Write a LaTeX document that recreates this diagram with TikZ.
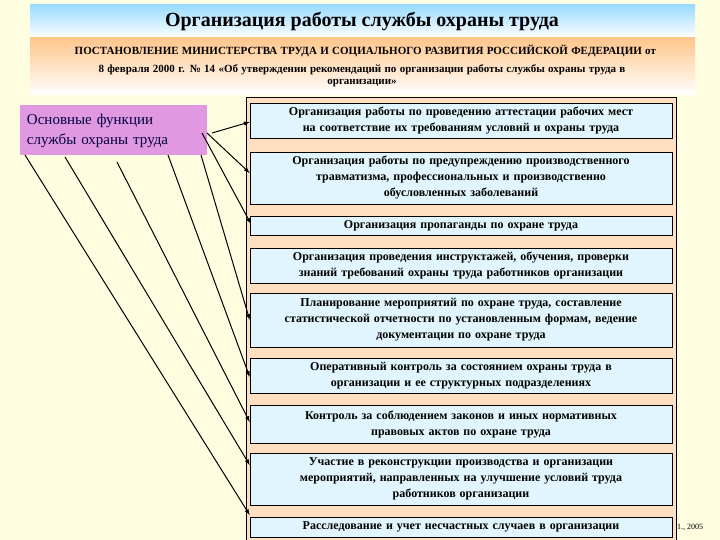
\documentclass[tikz,border=0pt]{standalone}
\usepackage{fontspec}
\setmainfont{Liberation Serif}
\begin{document}
\begin{tikzpicture}[x=1pt,y=-1pt,
  fbox/.style={draw=black,fill=cyan!12,line width=0.6pt,minimum width=422pt,text width=410pt,align=center,font=\bfseries\fontsize{12}{16}\selectfont,inner sep=0pt},
  arr/.style={-latex,line width=1pt}]
\useasboundingbox (0,0) rectangle (720,540);
\fill[yellow!12] (0,0) rectangle (720,540);
\shade[top color=blue!35!cyan!40,bottom color=white] (30,5) rectangle (695,38);
\shade[top color=orange!45,bottom color=white] (30,38) rectangle (695,95);
\node (title) at (362,22) {\bfseries\fontsize{20}{24}\selectfont Организация работы службы охраны труда};
\node[text width=680pt,align=center,inner sep=0pt] (sub) at (362,66) {\bfseries\fontsize{11}{18}\selectfont\ \ ПОСТАНОВЛЕНИЕ МИНИСТЕРСТВА ТРУДА И СОЦИАЛЬНОГО РАЗВИТИЯ РОССИЙСКОЙ ФЕДЕРАЦИИ от\\ 8 февраля 2000 г. № 14 «Об утверждении рекомендаций по организации работы службы охраны труда в\\ организации»};
\fill[orange!25,draw=black,line width=0.6pt] (246,97) rectangle (676,545);
\fill[violet!60!magenta!40] (20,105) rectangle (207,155);
\node[text width=180pt,align=left,font=\fontsize{15}{20}\selectfont,inner sep=0pt,text=black!75!blue] (src) at (117,131) {Основные функции\\службы охраны труда};
\node[fbox,minimum height=35pt] (b1) at (461,120.5) {Организация работы по проведению аттестации рабочих мест\\на соответствие их требованиям условий и охраны труда};
\node[fbox,minimum height=52pt] (b2) at (461,178) {Организация работы по предупреждению производственного\\травматизма, профессиональных и производственно\\обусловленных заболеваний};
\node[fbox,minimum height=19pt] (b3) at (461,225.5) {Организация пропаганды по охране труда};
\node[fbox,minimum height=35pt] (b4) at (461,265.5) {Организация проведения инструктажей, обучения, проверки\\знаний требований охраны труда работников организации};
\node[fbox,minimum height=54pt] (b5) at (461,320) {Планирование мероприятий по охране труда, составление\\статистической отчетности по установленным формам, ведение\\документации по охране труда};
\node[fbox,minimum height=35pt] (b6) at (461,375.5) {Оперативный контроль за состоянием охраны труда в\\организации и ее структурных подразделениях};
\node[fbox,minimum height=38pt] (b7) at (461,424) {Контроль за соблюдением законов и иных нормативных\\правовых актов по охране труда};
\node[fbox,minimum height=52pt] (b8) at (461,479) {Участие в реконструкции производства и организации\\мероприятий, направленных на улучшение условий труда\\работников организации};
\node[fbox,minimum height=20pt] (b9) at (461,527) {Расследование и учет несчастных случаев в организации};
\node[anchor=west,font=\fontsize{8}{9}\selectfont,inner sep=0pt] (foot) at (677,527) {1., 2005};
\coordinate (s1) at (212,133); \coordinate (s2) at (207,133); \coordinate (s3) at (202,133);
\coordinate (s4) at (201,155); \coordinate (s5) at (168,155); \coordinate (s6) at (117,162);
\coordinate (s7) at (65,157); \coordinate (s8) at (25,155);
\draw[arr] (s1) -- (b1.west|-0,122);
\draw[arr] (s2) -- (b2.west|-0,173);
\draw[arr] (s3) -- (251,224);
\draw[arr] (s4) -- (b5.west|-0,320);
\draw[arr] (s5) -- (b6.west|-0,377);
\draw[arr] (s6) -- (b7.west|-0,422);
\draw[arr] (s7) -- (b8.west|-0,465);
\draw[arr] (s8) -- (b9.west|-0,515);
\end{tikzpicture}
\end{document}
